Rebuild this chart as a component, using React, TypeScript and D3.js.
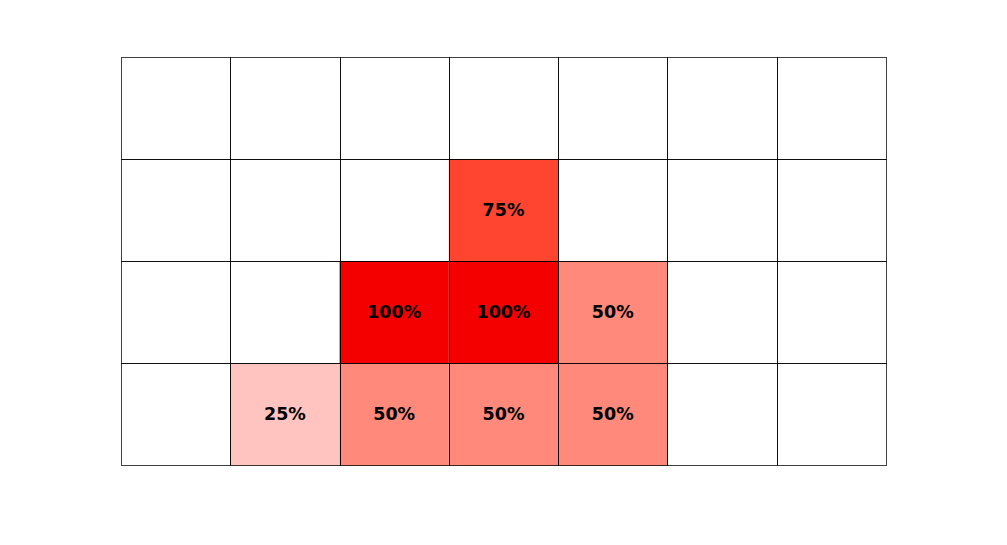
import React from "react";
import * as d3 from "d3";

const columns = ["c1", "c2", "c3", "c4", "c5", "c6", "c7"];
const rows = ["r1", "r2", "r3", "r4"];
// values: [rowIndex, colIndex, percent]
const cellRows = [1, 2, 2, 2, 3, 3, 3, 3];
const cellCols = [3, 2, 3, 4, 1, 2, 3, 4];
const cellValues = [75, 100, 100, 50, 25, 50, 50, 50];

const colorStops = [25, 50, 75, 100];
const colorRange = ["#ffc4bf", "#ff897b", "#ff4530", "#f50000"];

export default function App() {
  const W = 1007, H = 545;
  const x = d3.scaleBand<string>().domain(columns).range([121, 886]);
  const y = d3.scaleBand<string>().domain(rows).range([57, 465]);
  const color = d3.scaleOrdinal<number, string>().domain(colorStops).range(colorRange);
  const cells = cellValues.map((v, i) => ({ r: rows[cellRows[i]], c: columns[cellCols[i]], v }));
  return (
    <svg width={W} height={H} style={{ position: "absolute", left: 0, top: 0, background: "#fff" }}>
      {cells.map((d, i) => (
        <rect key={i} x={x(d.c)!} y={y(d.r)!} width={x.bandwidth()} height={y.bandwidth() + 1} fill={color(d.v)} />
      ))}
      {columns.map((c) =>
        rows.map((r) => (
          <rect key={c + r} x={Math.round(x(c)!) + 0.5} y={Math.round(y(r)!) + 0.5}
            width={Math.round(x(c)! + x.bandwidth()) - Math.round(x(c)!)}
            height={Math.round(y(r)! + y.bandwidth()) - Math.round(y(r)!)}
            fill="none" stroke="#000" strokeOpacity={0.75} strokeWidth={1} />
        ))
      )}
      {cells.map((d, i) => (
        <text key={"t" + i} x={x(d.c)! + x.bandwidth() / 2} y={y(d.r)! + y.bandwidth() / 2}
          textAnchor="middle" dominantBaseline="central"
          style={{ fontFamily: "'DejaVu Sans', sans-serif", fontWeight: 700, fontSize: 17.5 }} fill="#000">
          {d.v + "%"}
        </text>
      ))}
    </svg>
  );
}
